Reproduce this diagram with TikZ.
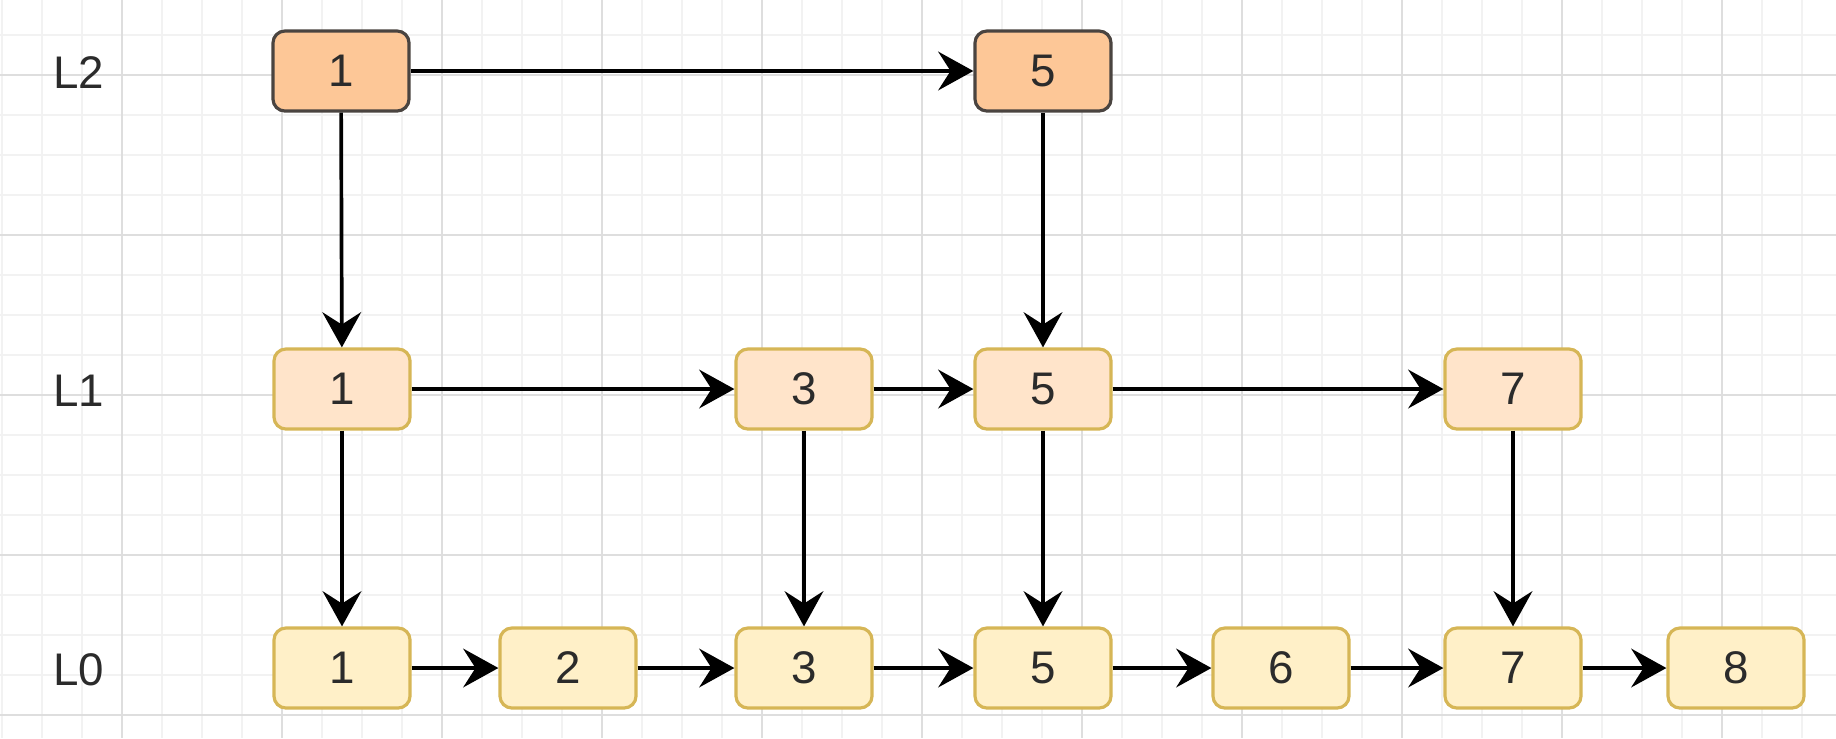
\documentclass[tikz,border=0pt]{standalone}
\usepackage{fontspec}
\setmainfont{Liberation Sans}
\usetikzlibrary{arrows.meta}
\definecolor{gridminor}{HTML}{F2F2F2}
\definecolor{gridmajor}{HTML}{DEDEDE}
\definecolor{topfill}{HTML}{FDC797}
\definecolor{topline}{HTML}{4A4440}
\definecolor{midfill}{HTML}{FFE4CA}
\definecolor{lowfill}{HTML}{FFF0C8}
\definecolor{goldline}{HTML}{D6B656}
\definecolor{textdark}{HTML}{2B2B2B}
\tikzset{
  cell/.style={rectangle, rounded corners=0.12cm, minimum width=1.36cm,
    minimum height=0.8cm, inner sep=0pt, line width=0.9pt,
    font=\fontsize{13}{15}\selectfont, text=textdark},
  topcell/.style={cell, fill=topfill, draw=topline},
  midcell/.style={cell, fill=midfill, draw=goldline},
  lowcell/.style={cell, fill=lowfill, draw=goldline},
  levellabel/.style={font=\fontsize{13}{15}\selectfont, text=textdark, inner sep=0pt},
  link/.style={draw=black, line width=1.05pt,
    -{Stealth[length=10pt, width=11pt, inset=3.5pt]}}
}
\begin{document}
\begin{tikzpicture}[x=0.01cm, y=-0.01cm]
  % canvas
  \useasboundingbox (0,0) rectangle (1836,738);
  \fill[white] (0,0) rectangle (1836,738);
  % minor grid
  \foreach \gx in {2,42,...,1842} \draw[gridminor, line width=0.35pt] (\gx,0) -- (\gx,738);
  \foreach \gy in {-5,35,...,740} \draw[gridminor, line width=0.35pt] (0,\gy) -- (1836,\gy);
  % major grid
  \foreach \gx in {122,282,...,1842} \draw[gridmajor, line width=0.5pt] (\gx,0) -- (\gx,738);
  \foreach \gy in {75,235,...,740} \draw[gridmajor, line width=0.5pt] (0,\gy) -- (1836,\gy);

  % level labels
  \node[levellabel] (lab2) at (79,73) {L2};
  \node[levellabel] (lab1) at (79,391) {L1};
  \node[levellabel] (lab0) at (79,670) {L0};

  % level 2
  \node[topcell] (a1) at (341,71) {1};
  \node[topcell] (a5) at (1043,71) {5};

  % level 1
  \node[midcell] (b1) at (342,389) {1};
  \node[midcell] (b3) at (804,389) {3};
  \node[midcell] (b5) at (1043,389) {5};
  \node[midcell] (b7) at (1513,389) {7};

  % level 0
  \node[lowcell] (c1) at (342,668) {1};
  \node[lowcell] (c2) at (568,668) {2};
  \node[lowcell] (c3) at (804,668) {3};
  \node[lowcell] (c5) at (1043,668) {5};
  \node[lowcell] (c6) at (1281,668) {6};
  \node[lowcell] (c7) at (1513,668) {7};
  \node[lowcell] (c8) at (1736,668) {8};

  % horizontal links
  \draw[link] (a1) -- (a5);
  \draw[link] (b1) -- (b3);
  \draw[link] (b3) -- (b5);
  \draw[link] (b5) -- (b7);
  \draw[link] (c1) -- (c2);
  \draw[link] (c2) -- (c3);
  \draw[link] (c3) -- (c5);
  \draw[link] (c5) -- (c6);
  \draw[link] (c6) -- (c7);
  \draw[link] (c7) -- (c8);

  % vertical links
  \draw[link] (a1) -- (b1);
  \draw[link] (b1) -- (c1);
  \draw[link] (a5) -- (b5);
  \draw[link] (b5) -- (c5);
  \draw[link] (b3) -- (c3);
  \draw[link] (b7) -- (c7);
\end{tikzpicture}
\end{document}
